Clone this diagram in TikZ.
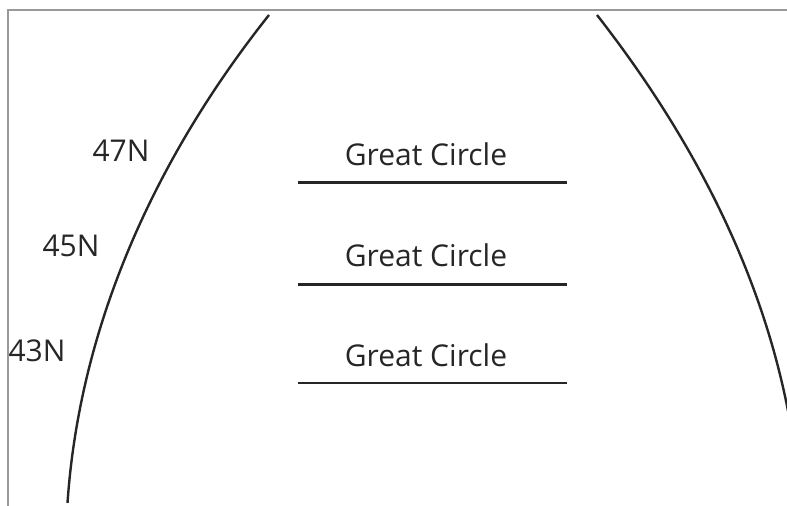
\documentclass[tikz,border=0pt]{standalone}
\usepackage{fontspec}
\setmainfont{Open Sans}
\usetikzlibrary{positioning}

\begin{document}
\begin{tikzpicture}[
  x=0.5pt, y=-0.5pt,
  meridian/.style={line width=1.2pt,color=black!85},
  gcline/.style={line width=1.2pt,color=black!85},
  lat/.style={anchor=base,text=black!85,font=\fontsize{15}{18}\selectfont,inner sep=0pt},
  gclabel/.style={anchor=base,text=black!85,font=\fontsize{15}{18}\selectfont,inner sep=0pt}
]
\useasboundingbox (0,0) rectangle (787,506);
\clip (0,0) rectangle (787,506);
\draw[black!40,line width=0.7pt] (8,506) |- (787,10);
% meridians
\draw[meridian] (269,15) .. controls (157,156) and (79.7,323) .. (67.5,503);
\draw[meridian] (597,15) .. controls (707,156) and (788,320) .. (800,503);
% latitude labels
\node[lat] (n47) at (121,162) {47N};
\node[lat] (n45) at (71,257) {45N};
\node[lat] (n43) at (37,362) {43N};
% great circles
\node[gclabel] (gc1) at (426,166) {Great Circle};
\node[gclabel] (gc2) at (426,267) {Great Circle};
\node[gclabel] (gc3) at (426,367) {Great Circle};
\draw[gcline] (298,182.5) -- (567,182.5);
\draw[gcline] (298,284.5) -- (567,284.5);
\draw[gcline] (298,383) -- (567,383);
\end{tikzpicture}
\end{document}
